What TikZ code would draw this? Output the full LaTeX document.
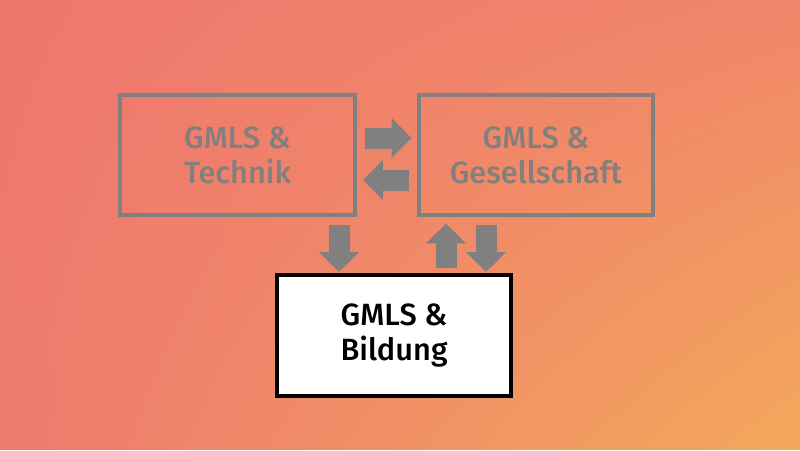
\documentclass[tikz,border=0pt]{standalone}
\usepackage{fontspec}
\setmainfont{Fira Sans}[UprightFont={* Medium}]
\usepackage{tikz}
\usetikzlibrary{arrows.meta,calc,shadings}

\definecolor{bgtl}{HTML}{EF776D}
\definecolor{bgtr}{HTML}{F0866A}
\definecolor{bgbl}{HTML}{EE7A6E}
\definecolor{bgbr}{HTML}{F4A85B}
\definecolor{boxgray}{HTML}{808080}
\definecolor{textgray}{HTML}{827F7E}

\tikzset{
  topicbox/.style={draw=boxgray,line width=0.08cm,minimum width=4.7cm,minimum height=2.42cm,
    align=center,text=textgray,font=\fontsize{17.5}{20}\selectfont},
  mainbox/.style={topicbox,draw=black,fill=white,text=black},
  fatarrow/.style={draw=boxgray,line width=0.42cm,-{Triangle[length=0.4cm,width=0.78cm]}}
}

\begin{document}
\begin{tikzpicture}[x=0.02cm,y=-0.02cm]
\useasboundingbox (0,0) rectangle (800,450);
\shade[upper left=bgtl,upper right=bgtr,lower left=bgbl,lower right=bgbr] (0cm,0cm) rectangle (16cm,-9cm);

\node[topicbox] (technik) at (237.5,155) {GMLS \&\\Technik};
\node[topicbox] (gesell) at (536,155) {GMLS \&\\Gesellschaft};
\node[mainbox] (bildung) at (394,335.5) {GMLS \&\\Bildung};

% arrows between the upper boxes
\draw[fatarrow,shorten <=0.16cm,shorten >=0.1cm] ($(technik.east)+(0,-17)$) -- ($(gesell.west)+(0,-17)$);
\draw[fatarrow,shorten <=0.16cm,shorten >=0.12cm] ($(gesell.west)+(0,25)$) -- ($(technik.east)+(0,25)$);

% arrows to and from Bildung
\draw[fatarrow,shorten <=0.16cm,shorten >=0.02cm] ($(technik.south -| bildung.north)+(-55,0)$) -- ($(bildung.north)+(-55,0)$);
\draw[fatarrow,shorten <=0.1cm,shorten >=0.12cm] ($(bildung.north)+(52,0)$) -- ($(gesell.south -| bildung.north)+(52,0)$);
\draw[fatarrow,shorten <=0.16cm,shorten >=0.02cm] ($(gesell.south -| bildung.north)+(92,0)$) -- ($(bildung.north)+(92,0)$);
\end{tikzpicture}
\end{document}
